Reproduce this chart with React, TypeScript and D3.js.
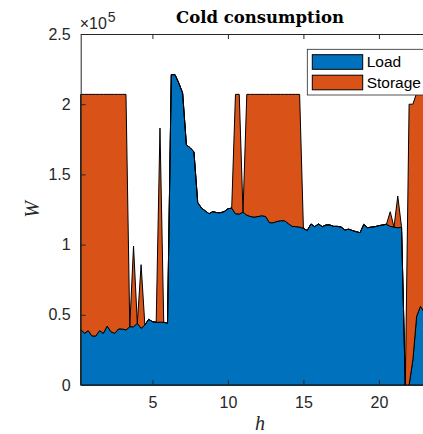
import React, { useEffect, useRef } from 'react';
import * as d3 from 'd3';

// hours of the day, 15 min steps
const hours = [
  0.25, 0.5, 0.75, 1, 1.25, 1.5, 1.75, 2, 2.25, 2.5, 2.75, 3, 3.25, 3.5, 3.75, 4,
  4.25, 4.5, 4.75, 5, 5.25, 5.5, 5.75, 6, 6.25, 6.5, 6.75, 7, 7.25, 7.5, 7.75, 8,
  8.25, 8.5, 8.75, 9, 9.25, 9.5, 9.75, 10, 10.25, 10.5, 10.75, 11, 11.25, 11.5, 11.75, 12,
  12.25, 12.5, 12.75, 13, 13.25, 13.5, 13.75, 14, 14.25, 14.5, 14.75, 15, 15.25, 15.5, 15.75, 16,
  16.25, 16.5, 16.75, 17, 17.25, 17.5, 17.75, 18, 18.25, 18.5, 18.75, 19, 19.25, 19.5, 19.75, 20,
  20.25, 20.5, 20.75, 21, 21.25, 21.5, 21.75, 22, 22.25, 22.5, 22.75, 23, 23.25, 23.5, 23.75, 24,
];

// W, in units of 1e5
const load = [
  0.397, 0.368, 0.387, 0.349, 0.349, 0.387, 0.368, 0.42, 0.38, 0.368, 0.399, 0.399, 0.392, 0.415, 0.415, 0.44,
  0.404, 0.427, 0.468, 0.451, 0.447, 0.447, 0.447, 0.44, 2.21, 2.21, 2.15, 2.08, 1.71, 1.69, 1.66, 1.3,
  1.26, 1.24, 1.22, 1.235, 1.228, 1.227, 1.235, 1.255, 1.26, 1.22, 1.218, 1.23, 1.21, 1.2, 1.196, 1.2,
  1.206, 1.2, 1.156, 1.156, 1.165, 1.17, 1.17, 1.15, 1.13, 1.128, 1.125, 1.116, 1.1, 1.147, 1.128, 1.147,
  1.128, 1.14, 1.14, 1.13, 1.13, 1.125, 1.104, 1.11, 1.1, 1.092, 1.085, 1.144, 1.12, 1.125, 1.128, 1.135,
  1.14, 1.145, 1.13, 1.125, 1.12, 1.123, 0, 0, 0.18, 0.49, 0.56, 0.52, 0.5, 0.48, 0.45, 0.42,
];

const storage = [
  1.673, 1.702, 1.683, 1.721, 1.721, 1.683, 1.702, 1.65, 1.69, 1.702, 1.671, 1.671, 1.678, 0, 0.575, 0,
  0.453, 0, 0, 0, 0, 1.383, 0, 0, 0, 0, 0, 0, 0, 0, 0, 0,
  0, 0, 0, 0, 0, 0, 0, 0, 0, 0.85, 0.852, 0, 0.86, 0.87, 0.874, 0.87,
  0.864, 0.87, 0.914, 0.914, 0.905, 0.9, 0.9, 0.92, 0.94, 0.942, 0.945, 0, 0, 0, 0, 0,
  0, 0, 0, 0, 0, 0, 0, 0, 0, 0, 0, 0, 0, 0, 0, 0,
  0, 0, 0.104, 0, 0.226, 0, 0, 2.0, 1.82, 1.59, 1.58, 1.6, 1.57, 1.59, 1.62, 1.65,
];

const xTicks = [5, 10, 15, 20];
const yTicks = [0, 0.5, 1, 1.5, 2, 2.5];
const seriesNames = ['Load', 'Storage'];
const seriesColors = ['#0072BD', '#D95319'];

export default function App() {
  const ref = useRef<SVGSVGElement>(null);

  useEffect(() => {
    if (!ref.current) return;
    const svg = d3.select(ref.current);
    svg.selectAll('*').remove();

    const left = 80.7, right = 439.3, top = 34, bottom = 385;
    const axisColor = '#262626';

    const x = d3.scaleLinear().domain([0.25, 24]).range([left, right]);
    const y = d3.scaleLinear().domain([0, 2.5]).range([bottom, top]);

    const rows = hours.map((h, i) => ({ h, load: load[i], storage: storage[i] }));
    const stacked = d3.stack<any>().keys(['load', 'storage'])(rows);

    const area = d3.area<any>()
      .x((d) => x(d.data.h))
      .y0((d) => y(d[0]))
      .y1((d) => y(d[1]));

    svg.append('rect')
      .attr('x', left).attr('y', top)
      .attr('width', right - left).attr('height', bottom - top)
      .attr('fill', '#fff');

    const g = svg.append('g');
    stacked.forEach((s, i) => {
      g.append('path')
        .datum(s)
        .attr('d', area)
        .attr('fill', seriesColors[i])
        .attr('stroke', '#000')
        .attr('stroke-width', 1)
        .attr('stroke-linejoin', 'round');
    });

    // axes
    const fmt = (d: any) => String(d);
    const bottomAxis = svg.append('g')
      .attr('transform', `translate(0,${bottom})`)
      .call(d3.axisBottom(x).tickValues(xTicks).tickSizeInner(-5).tickSizeOuter(0).tickPadding(10).tickFormat(fmt));
    const topAxis = svg.append('g')
      .attr('transform', `translate(0,${top})`)
      .call(d3.axisTop(x).tickValues(xTicks).tickSizeInner(-5).tickSizeOuter(0).tickFormat(() => ''));
    const leftAxis = svg.append('g')
      .attr('transform', `translate(${left},0)`)
      .call(d3.axisLeft(y).tickValues(yTicks).tickSizeInner(-5).tickSizeOuter(0).tickPadding(10).tickFormat(fmt));
    const rightAxis = svg.append('g')
      .attr('transform', `translate(${right},0)`)
      .call(d3.axisRight(y).tickValues(yTicks).tickSizeInner(-5).tickSizeOuter(0).tickFormat(() => ''));

    [bottomAxis, topAxis, leftAxis, rightAxis].forEach((a) => {
      a.select('.domain').attr('stroke', axisColor).attr('stroke-width', 1);
      a.selectAll('.tick line').attr('stroke', axisColor).attr('stroke-width', 1);
      a.selectAll('text')
        .attr('fill', axisColor)
        .attr('font-family', '"Liberation Sans", Arial, sans-serif')
        .attr('font-size', 16);
    });
    bottomAxis.selectAll('text').attr('dy', '0.75em').attr('y', 11);

    // exponent
    const expo = svg.append('text')
      .attr('x', left - 1).attr('y', 29)
      .attr('fill', axisColor)
      .attr('font-family', '"Liberation Sans", Arial, sans-serif')
      .attr('font-size', 16);
    expo.append('tspan').text('×10');
    expo.append('tspan').attr('dy', -7).attr('dx', 1).attr('font-size', 14).text('5');

    // title
    svg.append('text')
      .attr('x', (left + right) / 2).attr('y', 23)
      .attr('text-anchor', 'middle')
      .attr('font-family', '"DejaVu Serif", "Liberation Serif", serif')
      .attr('font-weight', 'bold')
      .attr('font-size', 16.5)
      .attr('fill', '#000')
      .text('Cold consumption');

    // axis labels
    svg.append('text')
      .attr('x', (left + right) / 2).attr('y', 430)
      .attr('text-anchor', 'middle')
      .attr('font-family', '"Liberation Serif", serif')
      .attr('font-style', 'italic')
      .attr('font-size', 20)
      .attr('fill', axisColor)
      .text('h');
    svg.append('text')
      .attr('transform', `translate(39,${(top + bottom) / 2}) rotate(-90)`)
      .attr('text-anchor', 'middle')
      .attr('font-family', '"Liberation Serif", serif')
      .attr('font-style', 'italic')
      .attr('font-size', 20)
      .attr('fill', axisColor)
      .text('W');

    // legend
    const lg = svg.append('g');
    lg.append('rect')
      .attr('x', 307.3).attr('y', 49.3)
      .attr('width', 140).attr('height', 45.7)
      .attr('fill', '#fff')
      .attr('stroke', axisColor)
      .attr('stroke-width', 0.8);
    seriesNames.forEach((name, i) => {
      const yy = 54.7 + i * 20.5;
      lg.append('rect')
        .attr('x', 312.3).attr('y', yy)
        .attr('width', 50.4).attr('height', 14.6)
        .attr('fill', seriesColors[i])
        .attr('stroke', '#000')
        .attr('stroke-width', 1);
      lg.append('text')
        .attr('x', 366.7).attr('y', yy + 12.3)
        .attr('font-family', '"Liberation Sans", Arial, sans-serif')
        .attr('font-size', 15.5)
        .attr('fill', '#000')
        .text(name);
    });
  }, []);

  return (
    <svg
      ref={ref}
      width={423}
      height={434}
      style={{ position: 'absolute', left: 0, top: 0, display: 'block', background: '#fff' }}
    />
  );
}
